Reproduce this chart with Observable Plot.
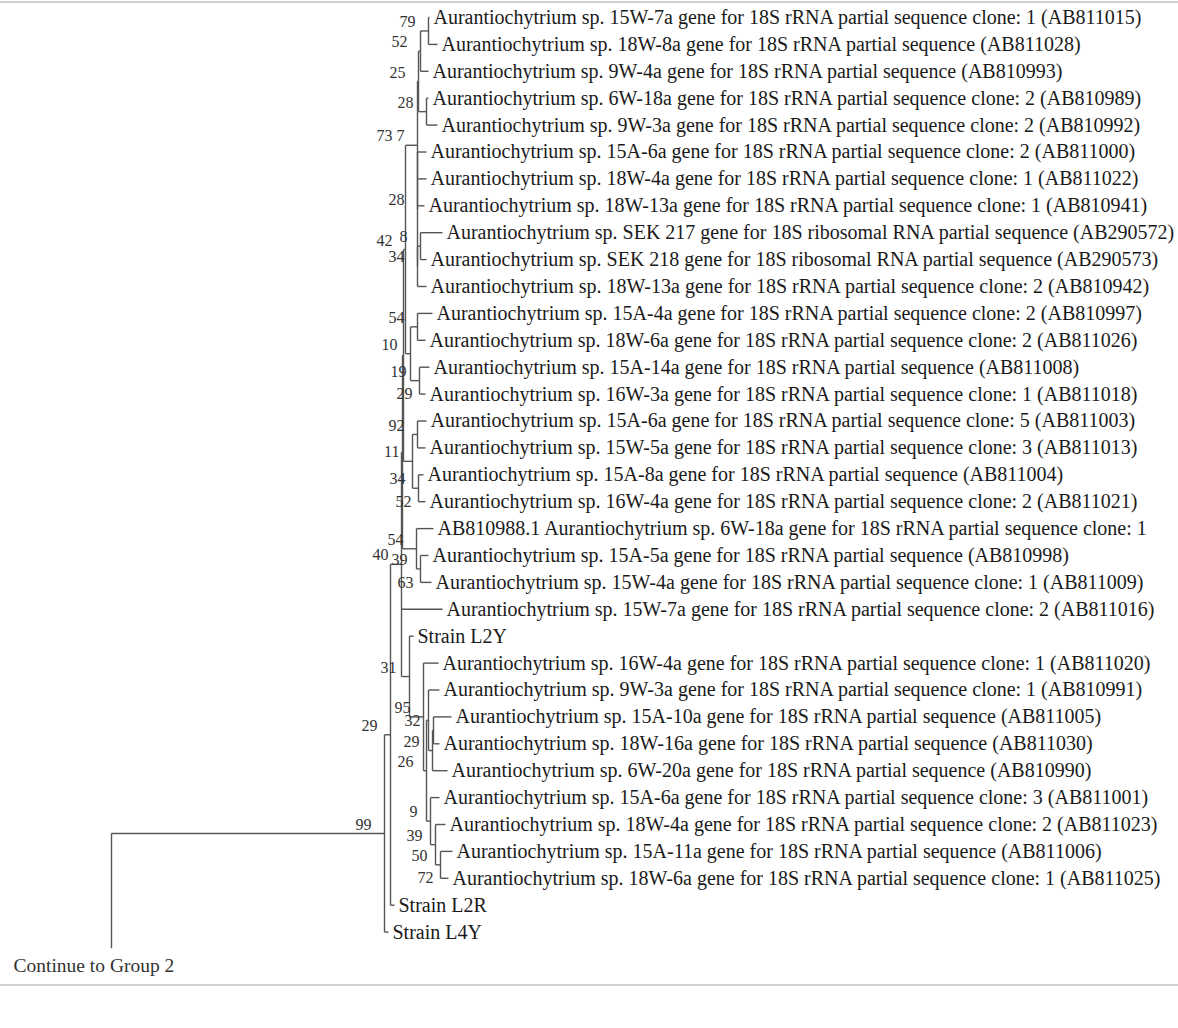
<!DOCTYPE html>
<html><head><meta charset="utf-8">
<script src="https://cdn.jsdelivr.net/npm/d3@7"></script>
<script src="https://cdn.jsdelivr.net/npm/@observablehq/plot@0.6"></script>
<style>
body{margin:0;background:#fff;}
#wrap{position:relative;width:1178px;height:1028px;overflow:hidden;background:#fff}
.rule{position:absolute;left:0;width:1178px;height:0;border-top:2px solid #cfcfcf}
</style></head><body>
<div id="wrap"><div class="rule" style="top:1px"></div><div class="rule" style="top:984px"></div></div>
<script>
// ---- tips (top to bottom) ----
const tipIds = ["t1","t2","t3","t4","t5","t6","t7","t8","t9","t10","t11","t12","t13","t14","t15","t16","t17","t18","t19","t20","t21","t22","t23","t24","t25","t26","t27","t28","t29","t30","t31","t32","t33","t34","t35","G2"];
const tipNames = [
"Aurantiochytrium sp. 15W-7a gene for 18S rRNA partial sequence clone: 1 (AB811015)",
"Aurantiochytrium sp. 18W-8a gene for 18S rRNA partial sequence (AB811028)",
"Aurantiochytrium sp. 9W-4a gene for 18S rRNA partial sequence (AB810993)",
"Aurantiochytrium sp. 6W-18a gene for 18S rRNA partial sequence clone: 2 (AB810989)",
"Aurantiochytrium sp. 9W-3a gene for 18S rRNA partial sequence clone: 2 (AB810992)",
"Aurantiochytrium sp. 15A-6a gene for 18S rRNA partial sequence clone: 2 (AB811000)",
"Aurantiochytrium sp. 18W-4a gene for 18S rRNA partial sequence clone: 1 (AB811022)",
"Aurantiochytrium sp. 18W-13a gene for 18S rRNA partial sequence clone: 1 (AB810941)",
"Aurantiochytrium sp. SEK 217 gene for 18S ribosomal RNA partial sequence (AB290572)",
"Aurantiochytrium sp. SEK 218 gene for 18S ribosomal RNA partial sequence (AB290573)",
"Aurantiochytrium sp. 18W-13a gene for 18S rRNA partial sequence clone: 2 (AB810942)",
"Aurantiochytrium sp. 15A-4a gene for 18S rRNA partial sequence clone: 2 (AB810997)",
"Aurantiochytrium sp. 18W-6a gene for 18S rRNA partial sequence clone: 2 (AB811026)",
"Aurantiochytrium sp. 15A-14a gene for 18S rRNA partial sequence (AB811008)",
"Aurantiochytrium sp. 16W-3a gene for 18S rRNA partial sequence clone: 1 (AB811018)",
"Aurantiochytrium sp. 15A-6a gene for 18S rRNA partial sequence clone: 5 (AB811003)",
"Aurantiochytrium sp. 15W-5a gene for 18S rRNA partial sequence clone: 3 (AB811013)",
"Aurantiochytrium sp. 15A-8a gene for 18S rRNA partial sequence (AB811004)",
"Aurantiochytrium sp. 16W-4a gene for 18S rRNA partial sequence clone: 2 (AB811021)",
"AB810988.1 Aurantiochytrium sp. 6W-18a gene for 18S rRNA partial sequence clone: 1",
"Aurantiochytrium sp. 15A-5a gene for 18S rRNA partial sequence (AB810998)",
"Aurantiochytrium sp. 15W-4a gene for 18S rRNA partial sequence clone: 1 (AB811009)",
"Aurantiochytrium sp. 15W-7a gene for 18S rRNA partial sequence clone: 2 (AB811016)",
"Strain L2Y",
"Aurantiochytrium sp. 16W-4a gene for 18S rRNA partial sequence clone: 1 (AB811020)",
"Aurantiochytrium sp. 9W-3a gene for 18S rRNA partial sequence clone: 1 (AB810991)",
"Aurantiochytrium sp. 15A-10a gene for 18S rRNA partial sequence (AB811005)",
"Aurantiochytrium sp. 18W-16a gene for 18S rRNA partial sequence (AB811030)",
"Aurantiochytrium sp. 6W-20a gene for 18S rRNA partial sequence (AB810990)",
"Aurantiochytrium sp. 15A-6a gene for 18S rRNA partial sequence clone: 3 (AB811001)",
"Aurantiochytrium sp. 18W-4a gene for 18S rRNA partial sequence clone: 2 (AB811023)",
"Aurantiochytrium sp. 15A-11a gene for 18S rRNA partial sequence (AB811006)",
"Aurantiochytrium sp. 18W-6a gene for 18S rRNA partial sequence clone: 1 (AB811025)",
"Strain L2R",
"Strain L4Y",
"Continue to Group 2"];
// distance from root of each tip
const tipDepth = [.318,.326,.317,.317,.326,.315,.315,.313,.331,.315,.315,.321,.314,.318,.314,.315,.314,.312,.314,.322,.317,.320,.331,.302,.327,.328,.340,.328,.336,.328,.334,.341,.337,.283,.277,0];
// support values that the tree prints on a tip's own row, just left of its branch
const tipSupport = ["","","","","","","","","","","","","","","29","","","","52","","","63","","","","","","","","","","","72","","",""];

// ---- internal nodes: id, distance from root, bootstrap support, children ----
const nodeIds      = ["root","N99","N29a","N40","Z2","Zq","Z1","W0","W1","V1","V1a","V1aa","V1b","W1a","W1b","V2","W2","W2a","W2b","Z2a","U1","U2","Zb","U3","N31","Na","Nb","Ncp","Nc","Nc1","Nd","Ne","Nf"];
const nodeDepth    = [0,.273,.279,.290,.291,.292,.294,.294,.306,.307,.309,.317,.315,.306,.306,.309,.299,.306,.308,.301,.306,.307,.305,.309,.298,.312,.315,.317,.321,.322,.319,.324,.329];
const nodeSupport  = ["","99","29","40","","","42","73","7","25","52","79","28","28","34","8","10","54","19","11","92","34","54","39","31","95","26","","29","32","9","39","50"];
const nodeChildren = [
 ["N99","G2"],["N29a","t35"],["N40","t34"],["Z2","t23","N31"],["Zq","Zb"],["Z1","Z2a"],["W0","W2"],["W1"],
 ["V1","W1a"],["V1a","V1b"],["V1aa","t3"],["t1","t2"],["t4","t5"],["t6","t7","t8","W1b"],["V2","t11"],["t9","t10"],
 ["W2a","W2b"],["t12","t13"],["t14","t15"],
 ["U1","U2"],["t16","t17"],["t18","t19"],["t20","U3"],["t21","t22"],
 ["t24","Na"],["t25","Nb"],["Ncp","Nd"],["t26","Nc"],["Nc1","t29"],["t27","t28"],["t30","Ne"],["t31","Nf"],["t32","t33"]
];

// ---- layout (rectangular cladogram, node at midpoint of its outer children) ----
const depth = new Map(), row = new Map(), kids = new Map(), parent = new Map();
tipIds.forEach((id, i) => { depth.set(id, tipDepth[i]); row.set(id, id === "G2" ? i - 0.4 : i); });
nodeIds.forEach((id, i) => { depth.set(id, nodeDepth[i]); kids.set(id, nodeChildren[i]); nodeChildren[i].forEach(k => parent.set(k, id)); });
function rowOf(id) {
  if (row.has(id)) return row.get(id);
  const c = kids.get(id);
  const r = (rowOf(c[0]) + rowOf(c[c.length - 1])) / 2;
  row.set(id, r); return r;
}
nodeIds.forEach(rowOf);

const segs = [];
nodeIds.forEach(id => {
  const c = kids.get(id), d = depth.get(id);
  if (c.length > 1) segs.push({x1: d, y1: row.get(c[0]), x2: d, y2: row.get(c[c.length - 1])});
  c.forEach(k => segs.push({x1: d, y1: row.get(k), x2: depth.get(k), y2: row.get(k)}));
});
const tipData = tipIds.map((id, i) => ({x: depth.get(id), y: row.get(id), text: tipNames[i], out: id === "G2"}));
const supData = nodeIds.map((id, i) => ({x: depth.get(id), y: row.get(id), text: nodeSupport[i]})).filter(d => d.text);
const tipSupData = tipIds.map((id, i) => ({x: depth.get(parent.get(id)), y: row.get(id), text: tipSupport[i]})).filter(d => d.text);

const chart = Plot.plot({
  width: 1178, height: 1028, margin: 0,
  style: {fontFamily: "'Liberation Serif', 'DejaVu Serif', serif", background: "transparent"},
  x: {domain: [0, 1], range: [111, 1111], axis: null},
  y: {domain: [0, 34], range: [17, 17 + 34 * 26.9], axis: null},
  marks: [
    Plot.link(segs, {x1: "x1", y1: "y1", x2: "x2", y2: "y2", stroke: "#555", strokeWidth: 1.4}),
    Plot.text(tipData.filter(d => !d.out), {x: "x", y: "y", text: "text", textAnchor: "start", dx: 4, fontSize: 20, fill: "#1a1a1a"}),
    Plot.text(tipData.filter(d => d.out), {x: "x", y: "y", text: "text", textAnchor: "start", dx: -98, dy: 18, fontSize: 19.5, fill: "#333"}),
    Plot.text(supData, {x: "x", y: "y", text: "text", textAnchor: "end", dx: -13, dy: -9, fontSize: 16, fill: "#333"}),
    Plot.text(tipSupData, {x: "x", y: "y", text: "text", textAnchor: "end", dx: -7, fontSize: 16, fill: "#333"})
  ]
});
chart.style.position = "absolute"; chart.style.left = "0"; chart.style.top = "0";
document.getElementById("wrap").appendChild(chart);
</script>
</body></html>
